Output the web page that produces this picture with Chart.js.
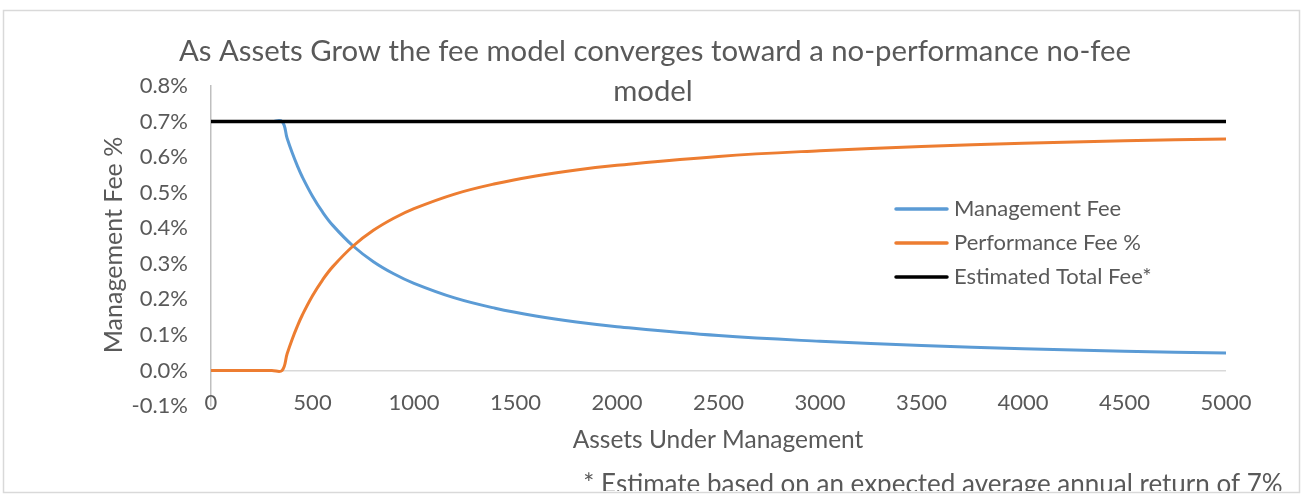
<!DOCTYPE html>
<html>
<head>
<meta charset="utf-8">
<script src="https://cdn.jsdelivr.net/npm/chart.js@4.4.1/dist/chart.umd.min.js"></script>
<style>
  html, body { margin: 0; padding: 0; background: #fff; }
  #wrap { width: 1306px; height: 496px; position: relative; }
</style>
</head>
<body>
<div id="wrap"><canvas id="chart"></canvas></div>
<script>
// values (fees in %)
const aum = [0, 100, 200, 300, 350, 375, 400, 425, 450, 500, 550, 600, 700, 800, 900, 1000,
  1200, 1400, 1600, 1800, 2000, 2500, 3000, 3500, 4000, 4500, 5000];
const mgmtFee = [0.7, 0.7, 0.7, 0.7, 0.7, 0.653, 0.612, 0.576, 0.544, 0.49, 0.445, 0.408, 0.35, 0.306, 0.272, 0.245,
  0.204, 0.175, 0.153, 0.136, 0.123, 0.098, 0.082, 0.07, 0.061, 0.054, 0.049];
const perfFee = [0, 0, 0, 0, 0, 0.047, 0.088, 0.124, 0.156, 0.21, 0.255, 0.292, 0.35, 0.394, 0.428, 0.455,
  0.496, 0.525, 0.547, 0.564, 0.577, 0.602, 0.618, 0.63, 0.639, 0.646, 0.651];
const totalAum = [0, 5000];
const totalFee = [0.7, 0.7];

const titleLines = ['As Assets Grow the fee model converges toward a no-performance no-fee', 'model'];
const yTitle = 'Management Fee %';
const xTitle = 'Assets Under Management';
const footnote = '* Estimate based on an expected average annual return of 7%';

const FONT = 'Lato, "Open Sans", sans-serif';
const TEXT = '#595959';

const pts = (xs, ys) => xs.map((x, i) => ({ x, y: ys[i] }));

const datasets = [
  { label: 'Management Fee', data: pts(aum, mgmtFee), borderColor: '#5B9BD5', order: 2 },
  { label: 'Performance Fee %', data: pts(aum, perfFee), borderColor: '#ED7D31', order: 1 },
  { label: 'Estimated Total Fee*', data: pts(totalAum, totalFee), borderColor: '#000000', order: 0, borderWidth: 3.5 },
];

const decorations = {
  id: 'decorations',
  afterDraw(chart) {
    const ctx = chart.ctx;
    const xs = chart.scales.x;
    ctx.save();

    // outer frame
    ctx.strokeStyle = '#D9D9D9';
    ctx.lineWidth = 1.5;
    ctx.strokeRect(3.5, 10.5, 1296, 482);

    ctx.fillStyle = TEXT;
    ctx.textAlign = 'center';
    ctx.textBaseline = 'middle';

    // x tick labels sit a little inside the plot bottom, as in Excel
    ctx.font = '22px ' + FONT;
    xs.ticks.forEach((t) => {
      ctx.fillText(String(t.value), xs.getPixelForValue(t.value), 403);
    });

    ctx.font = '29.3px ' + FONT;
    ctx.fillText(titleLines[0], 655, 52);
    ctx.fillText(titleLines[1], 653, 92);

    ctx.font = '24.5px ' + FONT;
    ctx.fillText(xTitle, 718, 440);

    ctx.save();
    ctx.translate(114, 245);
    ctx.rotate(-Math.PI / 2);
    ctx.font = '25px ' + FONT;
    ctx.fillText(yTitle, 0, 0);
    ctx.restore();

    // legend
    const rows = [209, 243, 277];
    ctx.textAlign = 'left';
    ctx.font = '22px ' + FONT;
    datasets.forEach((ds, i) => {
      ctx.strokeStyle = ds.borderColor;
      ctx.lineWidth = 3.5;
      ctx.lineCap = 'round';
      ctx.beginPath();
      ctx.moveTo(896, rows[i]);
      ctx.lineTo(947, rows[i]);
      ctx.stroke();
      ctx.fillText(ds.label, 954, rows[i]);
    });

    // footnote, clipped by the frame like the original
    ctx.beginPath();
    ctx.rect(0, 0, 1306, 491);
    ctx.clip();
    ctx.textAlign = 'center';
    ctx.font = '26px ' + FONT;
    ctx.fillText(footnote, 933, 485);

    ctx.restore();
  }
};

new Chart(document.getElementById('chart'), {
  type: 'line',
  data: { datasets },
  options: {
    responsive: true,
    maintainAspectRatio: false,
    animation: false,
    devicePixelRatio: 1,
    layout: { padding: { left: 0, right: 80, top: 86, bottom: 0 } },
    elements: {
      line: { borderWidth: 3, tension: 0.4, borderCapStyle: 'round' },
      point: { radius: 0 },
    },
    plugins: {
      legend: { display: false },
      tooltip: { enabled: false },
    },
    scales: {
      x: {
        type: 'linear',
        min: 0,
        max: 5000,
        border: { display: false },
        grid: { display: false, drawTicks: false },
        ticks: { stepSize: 500, display: false },
        afterFit(scale) { scale.height = 90; },
      },
      y: {
        min: -0.1,
        max: 0.8,
        border: { display: true, color: '#BFBFBF', width: 1.5 },
        grid: {
          drawTicks: false,
          color: (c) => (c.tick && c.tick.value === 0 ? '#D9D9D9' : 'rgba(0,0,0,0)'),
          lineWidth: 1.5,
        },
        ticks: {
          stepSize: 0.1,
          padding: 23,
          color: TEXT,
          font: { size: 22, family: FONT },
          callback: (v) => v.toFixed(1) + '%',
        },
        afterFit(scale) { scale.width = 211; },
      },
    },
  },
  plugins: [decorations],
});
</script>
</body>
</html>
